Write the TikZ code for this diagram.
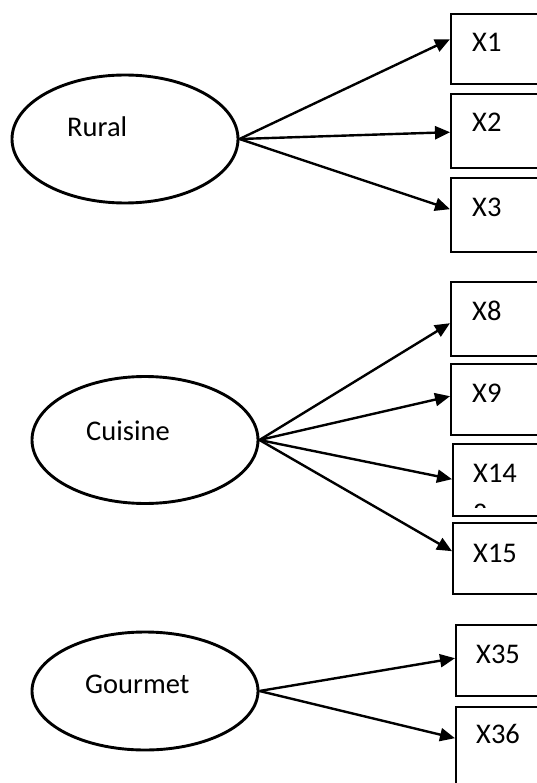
\documentclass[tikz,border=0pt]{standalone}
\usepackage{fontspec}
\setmainfont{Carlito}
\usetikzlibrary{shapes.geometric,arrows.meta}
\tikzset{
  lat/.style={draw, ellipse, line width=2.9pt, inner sep=0pt},
  obs/.style={draw, rectangle, line width=2.4pt, anchor=north west, minimum width=110pt, inner sep=0pt},
  lbl/.style={anchor=base west, inner sep=0pt, font=\fontsize{28.5}{34}\selectfont},
  path/.style={line width=2.4pt, -{Triangle[length=15pt,width=13pt]}}
}
\begin{document}
\begin{tikzpicture}[x=1pt,y=-1pt]
\useasboundingbox (0,0) rectangle (537,783);
\clip (0,0) rectangle (537,783);
% latent variables
\node[lat, minimum width=226pt, minimum height=128pt] (rural) at (125,139) {};
\node[lat, minimum width=226pt, minimum height=127pt] (cuisine) at (145,440) {};
\node[lat, minimum width=226pt, minimum height=118pt] (gourmet) at (145,691) {};
\node[lbl] (trural) at (67,137) {Rural};
\node[lbl] (tcuisine) at (86,440) {Cuisine};
\node[lbl] (tgourmet) at (85,693) {Gourmet};
% indicator boxes
\node[obs, minimum height=70pt] (x1) at (450,13) {};
\node[obs, minimum height=74pt] (x2) at (450,93) {};
\node[obs, minimum height=74pt] (x3) at (450,177) {};
\node[obs, minimum height=74pt] (x8) at (450,281) {};
\node[obs, minimum height=71pt] (x9) at (450,363) {};
\node[obs, minimum height=72pt] (x14) at (452,443) {};
\node[obs, minimum height=71pt] (x15) at (452,522) {};
\node[obs, minimum height=71pt] (x35) at (455,624) {};
\node[obs, minimum height=94pt] (x36) at (455,706) {};
\node[lbl] (t1) at (472,52) {X1};
\node[lbl] (t2) at (472,132) {X2};
\node[lbl] (t3) at (472,217) {X3};
\node[lbl] (t8) at (472,320) {X8};
\node[lbl] (t9) at (472,402) {X9};
\node[lbl] (t14) at (473,482) {X14};
\begin{scope}
\clip (452,443) rectangle (545,507.5);
\node[lbl] (t14b) at (473,523) {8};
\end{scope}
\node[lbl] (t15) at (473,562) {X15};
\node[lbl] (t35) at (476,663) {X35};
\node[lbl] (t36) at (476,743) {X36};
% paths
\draw[path] (rural.east) -- ([yshift=10pt]x1.west);
\draw[path] (rural.east) -- ([yshift=-1pt]x2.west);
\draw[path] (rural.east) -- ([yshift=6pt]x3.west);
\draw[path] (cuisine.east) -- ([yshift=-4pt]x8.west);
\draw[path] (cuisine.east) -- ([yshift=3.5pt]x9.west);
\draw[path] (cuisine.east) -- ([yshift=1pt]x14.west);
\draw[path] (cuisine.east) -- ([yshift=7.5pt]x15.west);
\draw[path] (gourmet.east) -- ([yshift=2.5pt]x35.west);
\draw[path] (gourmet.east) -- ([yshift=16pt]x36.west);
\end{tikzpicture}
\end{document}
